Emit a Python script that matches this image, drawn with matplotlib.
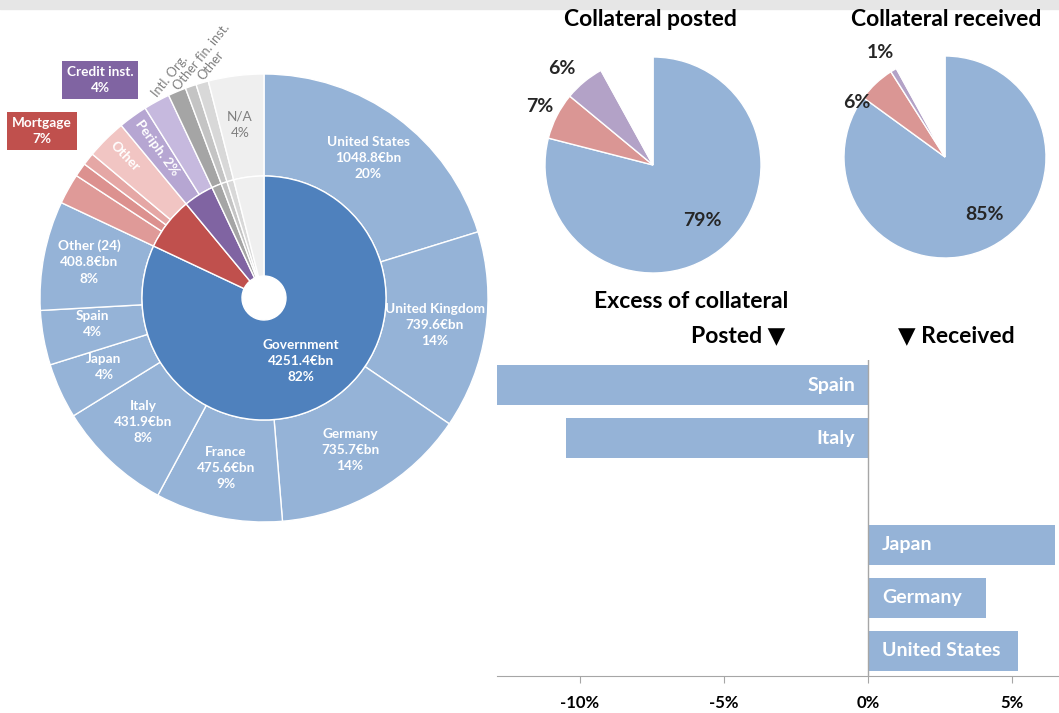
import matplotlib
matplotlib.use("Agg")
import matplotlib.pyplot as plt
from matplotlib.patches import Rectangle
import numpy as np

W, H = 1059, 713
plt.rcParams['font.family'] = ['Lato', 'DejaVu Sans']

# ---------------- data ----------------
sectors = ["Government", "Mortgage", "Credit inst.", "Intl. Org.", "Other fin. inst.", "Other", "N/A"]
sector_pct = [82, 7, 4, 1.3, 0.8, 0.9, 4]

gov_countries = ["United States", "United Kingdom", "Germany", "France", "Italy", "Japan", "Spain", "Other (24)"]
gov_values_bn = [1048.8, 739.6, 735.7, 475.6, 431.9, 207.0, 204.0, 408.8]
gov_pct_labels = [20, 14, 14, 9, 8, 4, 4, 8]

mortgage_sub = ["Mortgage a", "Mortgage b", "Mortgage c", "Other"]
mortgage_sub_pct = [2.2, 1.0, 0.9, 2.9]
credit_sub = ["Periph.", "Credit other"]
credit_sub_pct = [2.1, 1.9]

posted_cats = ["Government", "Mortgage", "Credit inst.", "Rest"]
posted_pct = [79, 7, 6, 8]
received_pct = [85, 6, 1, 8]

excess_countries = ["Spain", "Italy", "", "Japan", "Germany", "United States"]
excess_pct = [-13.0, -10.5, 0.0, 6.5, 4.1, 5.2]
excess_ticks = [-10, -5, 0, 5]

# ---------------- colours ----------------
C_GOV = '#4f81bd'
C_CTRY = '#95b3d7'
inner_colors = [C_GOV, '#c0504d', '#8064a2', '#a5a5a5', '#c4c4c4', '#d8d8d8', '#efefef']
mort_colors = ['#df9a98', '#dc918f', '#e5a7a5', '#f1c5c3']
cred_colors = ['#b6a6d2', '#c6b9de']
grey_outer = ['#a5a5a5', '#c4c4c4', '#d8d8d8', '#efefef']

fig = plt.figure(figsize=(W / 100, H / 100), dpi=100)


def px_axes(cx, cy, half):
    """axes whose data units are pixels, centred on (cx, cy) in image coords"""
    return fig.add_axes([(cx - half) / W, (H - cy - half) / H, 2 * half / W, 2 * half / H])


def ftext(x, y, s, **kw):
    return fig.text(x / W, 1 - y / H, s, **kw)


# top grey strip
fig.patches.append(Rectangle((0, 1 - 9 / H), 1, 9 / H, transform=fig.transFigure,
                             color='#e6e6e6', zorder=0))

# ---------------- sunburst ----------------
R_OUT, R_IN, R_HOLE = 224, 122, 22
ax = px_axes(264, 298, 262)
gov_total = sum(gov_values_bn)
outer_vals = [v / gov_total * sector_pct[0] for v in gov_values_bn] + mortgage_sub_pct + credit_sub_pct + sector_pct[3:]
outer_cols = [C_CTRY] * len(gov_values_bn) + mort_colors + cred_colors + grey_outer
wp = dict(edgecolor='white', linewidth=1)
ax.pie(outer_vals, radius=R_OUT, colors=outer_cols, startangle=90, counterclock=False,
       wedgeprops=dict(width=R_OUT - R_IN, **wp))
ax.pie(sector_pct, radius=R_IN, colors=inner_colors, startangle=90, counterclock=False,
       wedgeprops=dict(width=R_IN - R_HOLE, **wp))
ax.set_xlim(-262, 262)
ax.set_ylim(-262, 262)

FS = 9.8
LS = 1.42
lab = dict(color='white', fontweight='bold', fontsize=FS, ha='center', va='center', linespacing=LS)
pos = {"United States": (368, 158), "United Kingdom": (435, 325), "Germany": (350, 450),
       "France": (226, 468), "Italy": (143, 422), "Other (24)": (89, 262)}
for name, v, p in zip(gov_countries, gov_values_bn, gov_pct_labels):
    if name in pos:
        x, y = pos[name]
        ftext(x, y, f"{name}\n{v:.1f}€bn\n{p}%", **lab)
ftext(104, 367, f"Japan\n{gov_pct_labels[5]}%", **lab)
ftext(92, 324, f"Spain\n{gov_pct_labels[6]}%", **lab)
ftext(301, 361, f"Government\n{gov_total:.1f}€bn\n{sector_pct[0]}%", **lab)
ftext(240, 125, "N/A\n4%", color='#7f7f7f', fontsize=FS, ha='center', va='center', linespacing=LS)
ftext(125, 156, "Other", color='white', fontweight='bold', fontsize=FS, ha='center', va='center', rotation=-46)
ftext(157, 148, "Periph. 2%", color='white', fontweight='bold', fontsize=FS, ha='center', va='center', rotation=-54)

for s, (x, y) in zip(["Intl. Org.", "Other fin. inst.", "Other"], [(157, 98), (179, 91), (203, 81)]):
    ftext(x, y, s, color='#7f7f7f', fontsize=9.3, ha='left', va='baseline', rotation=51,
          rotation_mode='anchor')

box = dict(fontweight='bold', color='white', fontsize=FS, ha='center', va='center', linespacing=LS)
ftext(42, 131, "Mortgage\n7%", bbox=dict(boxstyle='square,pad=0.35', fc='#c0504d', ec='none'), **box)
ftext(100, 80, "Credit inst.\n4%", bbox=dict(boxstyle='square,pad=0.35', fc='#8064a2', ec='none'), **box)

# ---------------- small pies ----------------
pie_cols = [C_CTRY, '#da9694', '#b3a2c7', 'white']
for (cx, cy, r), vals, title, tx, lpos in [
        ((653, 165, 108), posted_pct, "Collateral posted", 650, [(702, 221), (540, 106), (562, 68)]),
        ((945, 157, 101), received_pct, "Collateral received", 946, [(985, 215), (857, 102), (880, 53)])]:
    a = px_axes(cx, cy, r + 4)
    a.pie(vals, radius=r, colors=pie_cols, startangle=90, counterclock=False,
          wedgeprops=dict(edgecolor='white', linewidth=1))
    a.set_xlim(-r - 4, r + 4)
    a.set_ylim(-r - 4, r + 4)
    ftext(tx, 20, title, fontsize=16.5, fontweight='bold', ha='center', va='center')
    for v, (x, y) in zip(vals[:3], lpos):
        ftext(x, y, f"{v}%", fontsize=14, fontweight='bold', color='#262626', ha='center', va='center')

# ---------------- bar chart ----------------
X0, X1, ZERO, PPU = 497, 1059, 868, 28.8
Y_TOP, Y_BOT = 360, 676
bx = fig.add_axes([X0 / W, (H - Y_BOT) / H, (X1 - X0) / W, (Y_BOT - Y_TOP) / H])
ypos = np.arange(len(excess_countries))[::-1]
bx.barh(ypos, excess_pct, height=0.75, color=C_CTRY)
bx.set_xlim((X0 - ZERO) / PPU, (X1 - ZERO) / PPU)
slot = 53.2
bx.set_ylim(-(Y_BOT - 651) / slot, 5 + (385 - Y_TOP) / slot)
bx.axvline(0, color='#a6a6a6', lw=1)
for s in ['left', 'top', 'right']:
    bx.spines[s].set_visible(False)
bx.spines['bottom'].set_color('#a6a6a6')
bx.set_yticks([])
bx.set_xticks(excess_ticks)
bx.set_xticklabels([f"{t}%" for t in excess_ticks], fontweight='bold', fontsize=12)
bx.tick_params(axis='x', length=5, color='#a6a6a6', pad=9)
for y, v, name in zip(ypos, excess_pct, excess_countries):
    if not name:
        continue
    if v < 0:
        bx.annotate(name, (0, y), xytext=(-13, 0), textcoords='offset pixels', ha='right', va='center',
                    color='white', fontweight='bold', fontsize=14)
    else:
        bx.annotate(name, (0, y), xytext=(14, 0), textcoords='offset pixels', ha='left', va='center',
                    color='white', fontweight='bold', fontsize=14)

ftext(691, 301, "Excess of collateral", fontsize=16.5, fontweight='bold', ha='center', va='center')
ftext(785, 336, "Posted ▼", fontsize=16.5, fontweight='bold', ha='right', va='center')
ftext(898, 336, "▼ Received", fontsize=16.5, fontweight='bold', ha='left', va='center')

fig.savefig("out.png", dpi=100)
